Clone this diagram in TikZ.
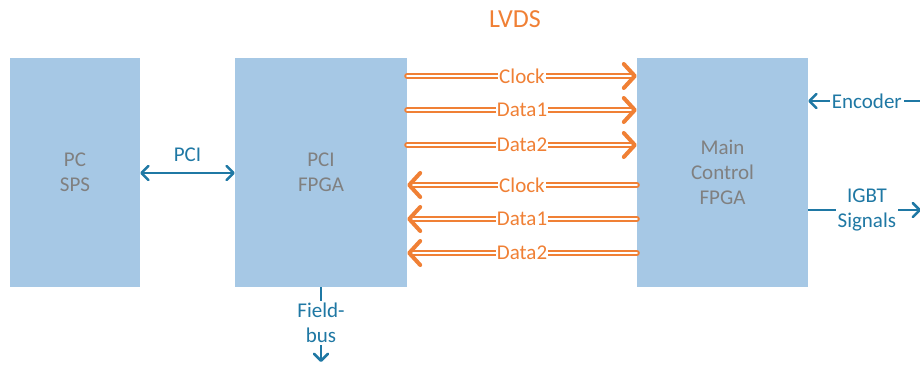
\documentclass[tikz,border=0pt]{standalone}
\usepackage{fontspec}
\setmainfont{Carlito}
\usepackage{tikz}
\usetikzlibrary{arrows.meta}

\definecolor{boxblue}{HTML}{A6C8E5}
\definecolor{boxtext}{HTML}{808080}
\definecolor{lvdsorange}{HTML}{F08035}
\definecolor{sigblue}{HTML}{1F78A4}

\tikzset{sighead/.tip={Straight Barb[length=7pt, width=14pt, round]}}

\begin{document}
\begin{tikzpicture}[x=1pt, y=-1pt, every node/.style={font=\fontsize{21}{25}\selectfont}]
    % Styles
    \tikzstyle{block} = [rectangle, fill=boxblue, draw=none, minimum height=229pt, align=center, text=boxtext]
    \tikzstyle{lvds} = [draw=lvdsorange, line width=2pt, double=white, double distance=2pt, line cap=round]
    \tikzstyle{lvdshead} = [draw=lvdsorange, line width=4pt, -{Straight Barb[length=11pt, width=24pt, round]}]
    \tikzstyle{tag} = [midway, fill=white, inner sep=1pt, text=lvdsorange]
    \tikzstyle{sig} = [draw=sigblue, line width=2.5pt]
    \tikzstyle{sigtext} = [fill=white, inner sep=2pt, text=sigblue, align=center]

    \useasboundingbox (0,0) rectangle (920,365);

    % Nodes
    \node[block, minimum width=130pt] (pc) at (75,172.5) {PC\\SPS};
    \node[block, minimum width=172pt] (pcifpga) at (321,172.5) {PCI\\FPGA};
    \node[block, minimum width=171pt] (mainfpga) at (722.5,172.5) {Main\\Control\\FPGA};
    \node[text=lvdsorange, font=\fontsize{26}{30}\selectfont] (lvdstitle) at (515,19) {LVDS};

    % LVDS lines, PCI FPGA -> Main FPGA
    \foreach \y/\t [count=\i] in {76/Clock, 110/Data1, 145/Data2} {
        \coordinate (tx\i) at (pcifpga.east |- 0,\y);
        \coordinate (rx\i) at (mainfpga.west |- 0,\y);
        \draw[lvds, shorten >=5pt] (tx\i) -- node[tag] {\t} (rx\i);
        \draw[lvdshead] ([xshift=-3pt]rx\i) -- (rx\i);
    }
    % LVDS lines, Main FPGA -> PCI FPGA
    \foreach \y/\t [count=\i] in {185/Clock, 219/Data1, 253/Data2} {
        \coordinate (bs\i) at (mainfpga.west |- 0,\y);
        \coordinate (bd\i) at (pcifpga.east |- 0,\y);
        \draw[lvds, shorten >=5pt] (bs\i) -- node[tag] {\t} (bd\i);
        \draw[lvdshead] ([xshift=3pt]bd\i) -- (bd\i);
    }

    % PCI bus
    \draw[sig, sighead-sighead] (pc.east |- 0,173) -- node[sigtext, fill=none, above=8pt] {PCI} (pcifpga.west |- 0,173);

    % Encoder and IGBT signals
    \coordinate (encin) at (921,101);
    \draw[sig, -sighead] (encin) -- node[sigtext, pos=0.48] {Encoder} (mainfpga.east |- encin);
    \coordinate (igbtout) at (921,210);
    \draw[sig, -sighead] (mainfpga.east |- igbtout) -- node[sigtext, pos=0.52] {IGBT\\Signals} (igbtout);

    % Fieldbus
    \coordinate (fbout) at (pcifpga.south |- 0,362);
    \draw[sig, -sighead] (pcifpga.south) -- node[sigtext, pos=0.48] {Field-\\bus} (fbout);
\end{tikzpicture}
\end{document}
